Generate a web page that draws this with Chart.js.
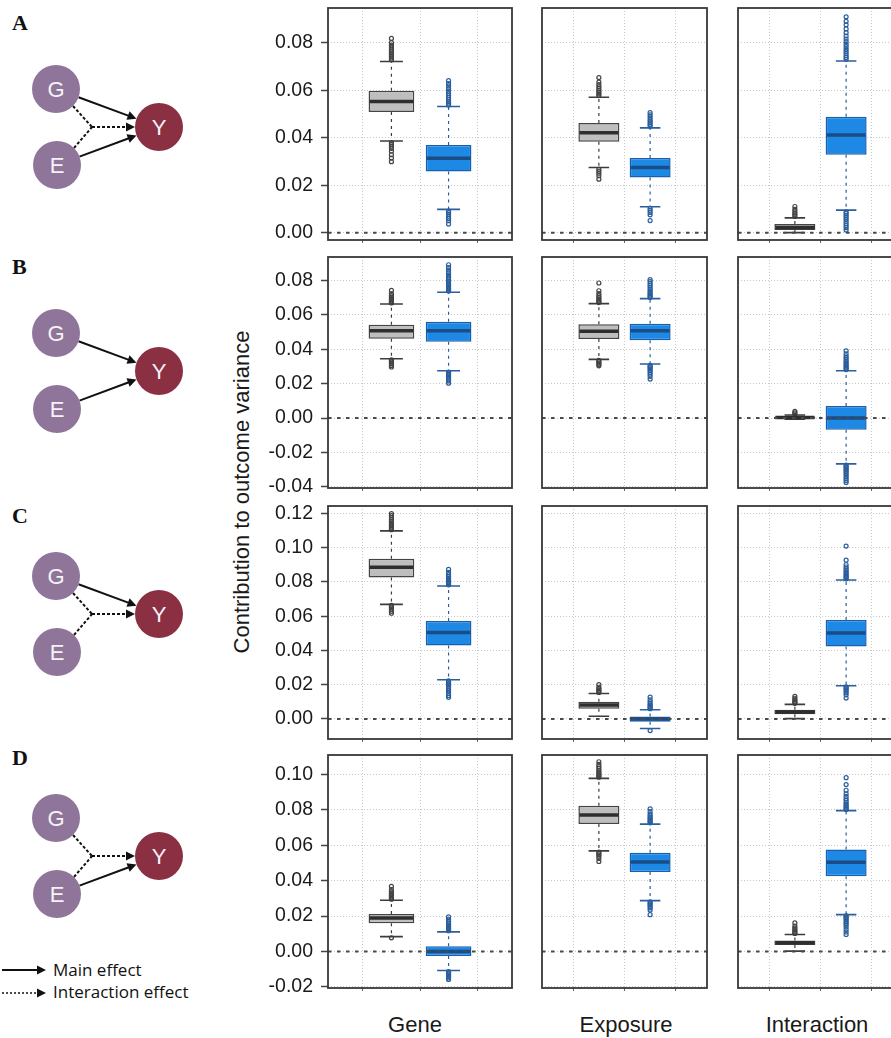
<!DOCTYPE html>
<html>
<head>
<meta charset="utf-8">
<script src="https://cdn.jsdelivr.net/npm/chart.js@4.4.0/dist/chart.umd.min.js"></script>
<style>
  body { margin: 0; background: #fff; width: 891px; height: 1038px; overflow: hidden; position: relative; }
  canvas.panel { position: absolute; }
  #art { position: absolute; left: 0; top: 0; }
</style>
</head>
<body>
<svg id="art" width="891" height="1038"></svg>
<script>
'use strict';

// scenario rows and the three variance components
var rows = ['A', 'B', 'C', 'D'];
var components = ['Gene', 'Exposure', 'Interaction'];
var xPos = [1, 2];          // grey box, blue box
var xTicks = [0, 1, 2, 3];

// y axis per row
var yMin = [-0.0031, -0.0406, -0.0117, -0.0206];
var yMax = [0.0946, 0.0936, 0.1243, 0.1109];
var yTicks = [
    [0, 0.02, 0.04, 0.06, 0.08],
    [-0.04, -0.02, 0, 0.02, 0.04, 0.06, 0.08],
    [0, 0.02, 0.04, 0.06, 0.08, 0.10, 0.12],
    [-0.02, 0, 0.02, 0.04, 0.06, 0.08, 0.10]
];

// box statistics, each row: Gene grey, Gene blue, Exposure grey, Exposure blue, Interaction grey, Interaction blue
var whiskLo = [
    [0.0386, 0.0098, 0.0274, 0.0109, 0.0000, 0.0095],
    [0.0345, 0.0275, 0.0341, 0.0314, -0.0006, -0.0266],
    [0.0669, 0.0229, 0.0016, -0.0056, 0.0002, 0.0194],
    [0.0084, -0.0107, 0.0568, 0.0287, 0.0002, 0.0208]
];
var q1 = [
    [0.0508, 0.0257, 0.0383, 0.0232, 0.0011, 0.0328],
    [0.0461, 0.0444, 0.0459, 0.0453, -0.0003, -0.0068],
    [0.0826, 0.0429, 0.0060, -0.0016, 0.0027, 0.0423],
    [0.0159, -0.0026, 0.0720, 0.0448, 0.0036, 0.0424]
];
var med = [
    [0.0552, 0.0313, 0.0421, 0.0274, 0.0022, 0.0411],
    [0.0508, 0.0508, 0.0504, 0.0508, 0.0004, 0.0000],
    [0.0885, 0.0504, 0.0081, 0.0000, 0.0041, 0.0502],
    [0.0189, 0.0000, 0.0771, 0.0505, 0.0049, 0.0503]
];
var q3 = [
    [0.0598, 0.0369, 0.0462, 0.0314, 0.0036, 0.0488],
    [0.0543, 0.0560, 0.0545, 0.0548, 0.0010, 0.0070],
    [0.0935, 0.0572, 0.0101, 0.0014, 0.0054, 0.0578],
    [0.0212, 0.0030, 0.0822, 0.0557, 0.0062, 0.0576]
];
var whiskHi = [
    [0.0721, 0.0531, 0.0570, 0.0441, 0.0062, 0.0723],
    [0.0663, 0.0731, 0.0665, 0.0694, 0.0018, 0.0275],
    [0.1098, 0.0776, 0.0149, 0.0054, 0.0085, 0.0811],
    [0.0289, 0.0111, 0.0977, 0.0719, 0.0096, 0.0795]
];

var outliers = [
    [
        [0.0728, 0.0735, 0.0742, 0.0749, 0.0756, 0.0764, 0.0772, 0.0781, 0.0790, 0.0800, 0.0818, 0.0379, 0.0372, 0.0364, 0.0355, 0.0343, 0.0328, 0.0314, 0.0299],
        [0.0538, 0.0545, 0.0552, 0.0560, 0.0568, 0.0577, 0.0586, 0.0596, 0.0607, 0.0618, 0.0628, 0.0640, 0.0091, 0.0084, 0.0077, 0.0069, 0.0060, 0.0050, 0.0036],
        [0.0577, 0.0584, 0.0591, 0.0598, 0.0606, 0.0614, 0.0623, 0.0634, 0.0653, 0.0267, 0.0259, 0.0250, 0.0240, 0.0225],
        [0.0448, 0.0455, 0.0462, 0.0470, 0.0478, 0.0487, 0.0496, 0.0505, 0.0102, 0.0094, 0.0085, 0.0075, 0.0051],
        [0.0068, 0.0075, 0.0082, 0.0090, 0.0098, 0.0110],
        [0.0730, 0.0738, 0.0746, 0.0755, 0.0764, 0.0773, 0.0783, 0.0793, 0.0804, 0.0815, 0.0828, 0.0842, 0.0858, 0.0875, 0.0890, 0.0909,
         0.0088, 0.0081, 0.0073, 0.0065, 0.0057, 0.0048, 0.0039, 0.0030, 0.0021, 0.0011]
    ],
    [
        [0.0669, 0.0675, 0.0681, 0.0688, 0.0695, 0.0703, 0.0712, 0.0722, 0.0742, 0.0339, 0.0332, 0.0325, 0.0316, 0.0306, 0.0297],
        [0.0738, 0.0745, 0.0752, 0.0760, 0.0768, 0.0777, 0.0786, 0.0796, 0.0807, 0.0818, 0.0831, 0.0845, 0.0860, 0.0875, 0.0891,
         0.0268, 0.0261, 0.0254, 0.0246, 0.0237, 0.0227, 0.0216, 0.0203],
        [0.0671, 0.0678, 0.0685, 0.0693, 0.0702, 0.0712, 0.0724, 0.0740, 0.0785, 0.0335, 0.0328, 0.0320, 0.0312, 0.0304],
        [0.0701, 0.0708, 0.0715, 0.0723, 0.0731, 0.0740, 0.0750, 0.0760, 0.0771, 0.0782, 0.0793, 0.0804,
         0.0307, 0.0300, 0.0293, 0.0285, 0.0276, 0.0266, 0.0255, 0.0243, 0.0227],
        [0.0024, 0.0031, 0.0039],
        [0.0282, 0.0289, 0.0296, 0.0304, 0.0312, 0.0321, 0.0330, 0.0340, 0.0350, 0.0361, 0.0374, 0.0391,
         -0.0273, -0.0280, -0.0287, -0.0295, -0.0303, -0.0312, -0.0321, -0.0331, -0.0341, -0.0352, -0.0363, -0.0374]
    ],
    [
        [0.1105, 0.1112, 0.1119, 0.1127, 0.1135, 0.1144, 0.1153, 0.1163, 0.1175, 0.1187, 0.1199, 0.0663, 0.0656, 0.0648, 0.0639, 0.0628, 0.0617],
        [0.0783, 0.0790, 0.0797, 0.0805, 0.0813, 0.0822, 0.0831, 0.0842, 0.0855, 0.0873,
         0.0222, 0.0215, 0.0207, 0.0198, 0.0188, 0.0177, 0.0164, 0.0150, 0.0137, 0.0126],
        [0.0155, 0.0161, 0.0168, 0.0176, 0.0185, 0.0200],
        [0.0060, 0.0066, 0.0073, 0.0081, 0.0090, 0.0100, 0.0112, 0.0128, -0.0068],
        [0.0091, 0.0097, 0.0104, 0.0112, 0.0121, 0.0132],
        [0.0818, 0.0825, 0.0832, 0.0840, 0.0848, 0.0857, 0.0866, 0.0876, 0.0887, 0.0900, 0.0927, 0.1009,
         0.0187, 0.0180, 0.0172, 0.0163, 0.0153, 0.0141, 0.0122]
    ],
    [
        [0.0295, 0.0301, 0.0307, 0.0314, 0.0321, 0.0329, 0.0338, 0.0350, 0.0368, 0.0077],
        [0.0117, 0.0123, 0.0129, 0.0136, 0.0143, 0.0151, 0.0160, 0.0170, 0.0182, 0.0195,
         -0.0113, -0.0119, -0.0125, -0.0132, -0.0140, -0.0149, -0.0158],
        [0.0984, 0.0991, 0.0998, 0.1006, 0.1014, 0.1023, 0.1033, 0.1044, 0.1056, 0.1071, 0.0561, 0.0554, 0.0546, 0.0537, 0.0525, 0.0508],
        [0.0726, 0.0733, 0.0740, 0.0748, 0.0756, 0.0765, 0.0775, 0.0789, 0.0805, 0.0280, 0.0273, 0.0265, 0.0256, 0.0246, 0.0234, 0.0208],
        [0.0102, 0.0108, 0.0115, 0.0123, 0.0132, 0.0143, 0.0161],
        [0.0802, 0.0809, 0.0816, 0.0824, 0.0832, 0.0841, 0.0851, 0.0862, 0.0875, 0.0890, 0.0910, 0.0942, 0.0981,
         0.0201, 0.0194, 0.0187, 0.0179, 0.0170, 0.0160, 0.0150, 0.0138, 0.0124, 0.0110, 0.0096]
    ]
];

// panel placement on the page
var colLeft = [328, 542, 738];
var colWidth = [184, 165, 165];
var rowTop = [8, 257, 506, 755];
var rowHeight = [232, 231, 233, 233];

var boxFill = ['#bebebe', '#1e88e5'];
var boxEdge = ['#444444', '#1760b0'];
var medColor = ['#2e2e2e', '#1a4d86'];
var whiskColor = ['#3c3c3c', '#2a5e9c'];
var boxWidth = 0.8, capWidth = 0.4;

var boxPlugin = {
    id: 'boxes',
    afterDatasetsDraw: function(chart, args, opts) {
        var ctx = chart.ctx, x = chart.scales.x, y = chart.scales.y;
        ctx.save();
        [0, 1].forEach(function(k) {
            var i = opts.col * 2 + k, r = opts.row;
            var cx = x.getPixelForValue(xPos[k]);
            var capL = x.getPixelForValue(xPos[k] - capWidth / 2), capR = x.getPixelForValue(xPos[k] + capWidth / 2);
            var bL = x.getPixelForValue(xPos[k] - boxWidth / 2), bR = x.getPixelForValue(xPos[k] + boxWidth / 2);
            // whiskers
            ctx.strokeStyle = whiskColor[k];
            ctx.lineWidth = 1.2;
            ctx.setLineDash([3, 4]);
            ctx.beginPath();
            ctx.moveTo(cx, y.getPixelForValue(q3[r][i]));
            ctx.lineTo(cx, y.getPixelForValue(whiskHi[r][i]));
            ctx.moveTo(cx, y.getPixelForValue(q1[r][i]));
            ctx.lineTo(cx, y.getPixelForValue(whiskLo[r][i]));
            ctx.stroke();
            // caps
            ctx.setLineDash([]);
            ctx.lineWidth = 1.6;
            ctx.beginPath();
            ctx.moveTo(capL, y.getPixelForValue(whiskHi[r][i]));
            ctx.lineTo(capR, y.getPixelForValue(whiskHi[r][i]));
            ctx.moveTo(capL, y.getPixelForValue(whiskLo[r][i]));
            ctx.lineTo(capR, y.getPixelForValue(whiskLo[r][i]));
            ctx.stroke();
            // median
            ctx.strokeStyle = medColor[k];
            ctx.lineWidth = 3.5;
            ctx.beginPath();
            ctx.moveTo(bL + 1, y.getPixelForValue(med[r][i]));
            ctx.lineTo(bR - 1, y.getPixelForValue(med[r][i]));
            ctx.stroke();
        });
        ctx.restore();
    },
    afterDraw: function(chart) {
        var ctx = chart.ctx, a = chart.chartArea, y = chart.scales.y;
        ctx.save();
        var y0 = y.getPixelForValue(0);
        ctx.strokeStyle = '#4a4a4a';
        ctx.lineWidth = 2;
        ctx.setLineDash([3.5, 5.5]);
        ctx.beginPath();
        ctx.moveTo(a.left, y0);
        ctx.lineTo(a.right, y0);
        ctx.stroke();
        ctx.setLineDash([]);
        ctx.strokeStyle = '#383838';
        ctx.lineWidth = 1.8;
        ctx.strokeRect(a.left, a.top, a.right - a.left, a.bottom - a.top);
        ctx.restore();
    }
};

function drawPanel(r, c) {
    var pad = 20;
    var axisW = c === 0 ? 78 : 0;
    var canvas = document.createElement('canvas');
    canvas.className = 'panel';
    canvas.width = axisW + colWidth[c] + 2 * pad;
    canvas.height = rowHeight[r] + 2 * pad;
    canvas.style.left = (colLeft[c] - axisW - pad) + 'px';
    canvas.style.top = (rowTop[r] - pad) + 'px';
    document.body.appendChild(canvas);

    var g = c * 2, b = c * 2 + 1;
    new Chart(canvas.getContext('2d'), {
        type: 'bar',
        data: {
            datasets: [{
                data: [{x: xPos[0], y: [q1[r][g], q3[r][g]]}, {x: xPos[1], y: [q1[r][b], q3[r][b]]}],
                backgroundColor: boxFill,
                borderColor: boxEdge,
                borderWidth: 1.5,
                borderSkipped: false,
                barPercentage: boxWidth,
                categoryPercentage: 1.0
            }, {
                type: 'scatter',
                data: outliers[r][g].map(function(v) { return {x: xPos[0], y: v}; }),
                pointRadius: 2,
                pointBorderWidth: 1.2,
                pointBorderColor: '#444444',
                pointBackgroundColor: 'rgba(255,255,255,0)'
            }, {
                type: 'scatter',
                data: outliers[r][b].map(function(v) { return {x: xPos[1], y: v}; }),
                pointRadius: 2,
                pointBorderWidth: 1.2,
                pointBorderColor: '#2a5e9c',
                pointBackgroundColor: 'rgba(255,255,255,0)'
            }]
        },
        options: {
            responsive: false,
            animation: false,
            layout: { padding: pad },
            plugins: {
                legend: { display: false },
                tooltip: { enabled: false },
                boxes: { row: r, col: c }
            },
            scales: {
                x: {
                    type: 'linear', min: -0.11, max: 3.11, offset: false, z: 1,
                    afterBuildTicks: function(axis) { axis.ticks = xTicks.map(function(v) { return {value: v}; }); },
                    afterFit: function(axis) { axis.height = 0; },
                    ticks: { display: false },
                    grid: { color: '#c8c8c8', lineWidth: 1, tickLength: 3, tickColor: '#666' },
                    border: { display: false, dash: [1, 2] }
                },
                y: {
                    min: yMin[r], max: yMax[r], z: 1,
                    afterBuildTicks: function(axis) { axis.ticks = yTicks[r].map(function(v) { return {value: v}; }); },
                    afterFit: function(axis) { axis.width = axisW; },
                    ticks: {
                        display: c === 0,
                        padding: 8,
                        color: '#1a1a1a',
                        font: { family: '"Liberation Sans", Arial, sans-serif', size: 19.5 },
                        callback: function(v) { return Number(v).toFixed(2); }
                    },
                    grid: { color: '#c8c8c8', lineWidth: 1, drawTicks: c === 0, tickLength: 7, tickColor: '#444', tickWidth: 1.5 },
                    border: { display: false, dash: [1, 2] }
                }
            }
        },
        plugins: [boxPlugin]
    });
}

rows.forEach(function(name, r) {
    components.forEach(function(comp, c) { drawPanel(r, c); });
});

// ---- diagrams and text ----
var svgNS = 'http://www.w3.org/2000/svg';
var svg = document.getElementById('art');
function el(tag, attrs, text) {
    var e = document.createElementNS(svgNS, tag);
    for (var k in attrs) e.setAttribute(k, attrs[k]);
    if (text) e.textContent = text;
    svg.appendChild(e);
    return e;
}
function seg(x1, y1, x2, y2, dash, w) {
    el('line', {x1: x1, y1: y1, x2: x2, y2: y2, stroke: '#111', 'stroke-width': w || 2, 'stroke-dasharray': dash || 'none'});
}
function arrow(x1, y1, x2, y2, dash, w) {
    var d = Math.hypot(x2 - x1, y2 - y1), ux = (x2 - x1) / d, uy = (y2 - y1) / d;
    var L = 9, W = 4.5;
    seg(x1, y1, x2 - ux * 6, y2 - uy * 6, dash, w);
    var bx = x2 - ux * L, by = y2 - uy * L;
    el('polygon', {points: x2 + ',' + y2 + ' ' + (bx - uy * W) + ',' + (by + ux * W) + ' ' + (bx + uy * W) + ',' + (by - ux * W), fill: '#111'});
}

var letterBase = [30, 274, 523, 765];
var dagTop = [89, 333, 576, 818];
var mainFrom = [['G', 'E'], ['G', 'E'], ['G'], ['E']];
var hasInter = [true, false, true, true];
var nodeR = 24;

rows.forEach(function(name, r) {
    el('text', {x: 12, y: letterBase[r], 'font-family': '"Liberation Serif", "Times New Roman", serif', 'font-weight': 'bold', 'font-size': 22, fill: '#111'}, name);
    var t = dagTop[r];
    var nodes = { G: [56, t], E: [57, t + 76], Y: [159, t + 38] };
    mainFrom[r].forEach(function(n) {
        var p = nodes[n], q = nodes.Y;
        var d = Math.hypot(q[0] - p[0], q[1] - p[1]), ux = (q[0] - p[0]) / d, uy = (q[1] - p[1]) / d;
        arrow(p[0] + ux * nodeR, p[1] + uy * nodeR, q[0] - ux * nodeR, q[1] - uy * nodeR);
    });
    if (hasInter[r]) {
        var jx = 92, jy = t + 38;
        seg(nodes.G[0] + 17, nodes.G[1] + 17, jx, jy, '3 2');
        seg(nodes.E[0] + 17, nodes.E[1] - 17, jx, jy, '3 2');
        arrow(jx, jy, nodes.Y[0] - nodeR, jy, '3 2');
    }
    ['G', 'E', 'Y'].forEach(function(n) {
        var p = nodes[n];
        el('circle', {cx: p[0], cy: p[1], r: nodeR, fill: n === 'Y' ? '#8b3043' : '#8e7599'});
        el('text', {x: p[0], y: p[1] + 8, 'text-anchor': 'middle', 'font-family': '"Liberation Sans", Arial, sans-serif', 'font-size': 22, fill: '#f6f2f7'}, n);
    });
});

// legend
arrow(2, 970, 46, 970, null, 1.8);
arrow(2, 993, 46, 993, '2 2', 1.6);
el('text', {x: 53, y: 976, 'font-family': '"Open Sans", sans-serif', 'font-size': 17, fill: '#111'}, 'Main effect');
el('text', {x: 53, y: 998, 'font-family': '"Open Sans", sans-serif', 'font-size': 17, fill: '#111'}, 'Interaction effect');

// axis titles
el('text', {x: 0, y: 0, transform: 'translate(249,492) rotate(-90)', 'text-anchor': 'middle', 'font-family': '"Liberation Sans", Arial, sans-serif', 'font-size': 22, fill: '#1a1a1a'}, 'Contribution to outcome variance');
var compCenter = [415, 626, 817];
components.forEach(function(comp, c) {
    el('text', {x: compCenter[c], y: 1032, 'text-anchor': 'middle', 'font-family': '"Liberation Sans", Arial, sans-serif', 'font-size': 22, fill: '#1a1a1a'}, comp);
});
</script>
</body>
</html>
